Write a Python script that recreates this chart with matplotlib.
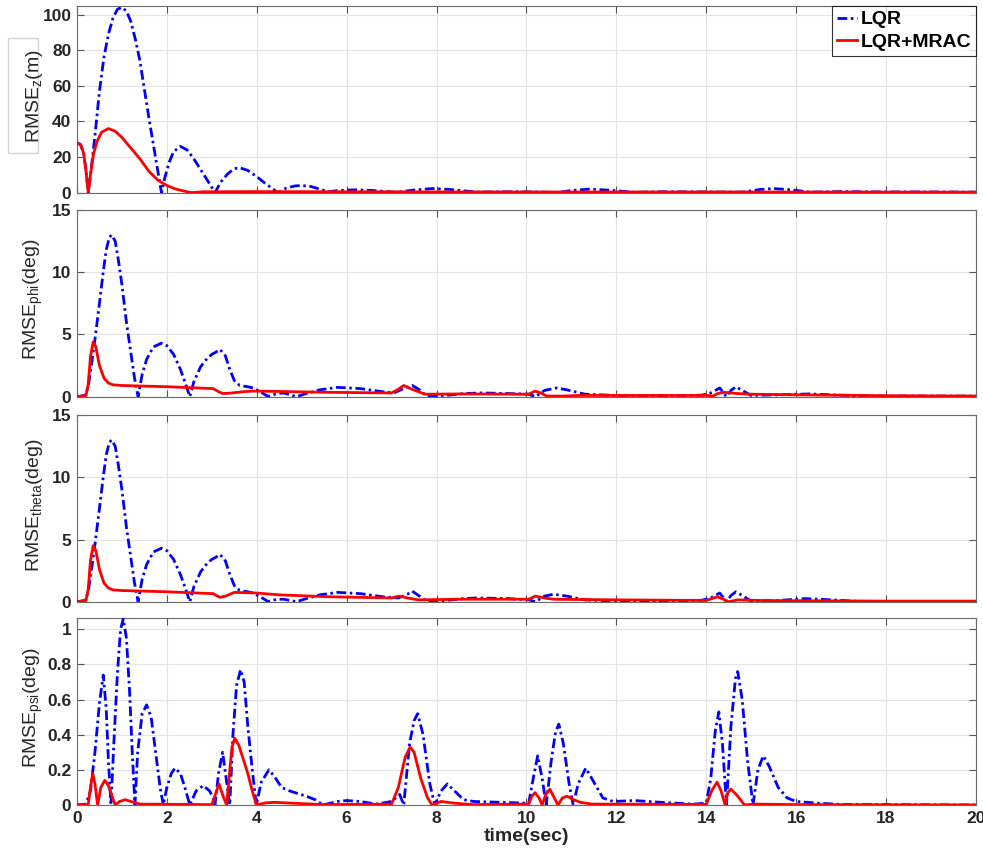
import numpy as np
import matplotlib.pyplot as plt
from matplotlib.ticker import FormatStrFormatter
from matplotlib.patches import Rectangle

plt.rcParams['font.family'] = ['Liberation Sans', 'DejaVu Sans']
plt.rcParams['mathtext.default'] = 'regular'

# datas (time in sec, value)
z_lqr = [(0, 28), (0.08, 27), (0.15, 22), (0.2, 13), (0.25, 0), (0.32, 14), (0.4, 32), (0.5, 57),
         (0.6, 76), (0.7, 89), (0.8, 98), (0.9, 103), (1.0, 104), (1.1, 102), (1.2, 96), (1.3, 86),
         (1.4, 74), (1.5, 58), (1.6, 42), (1.7, 27), (1.8, 12), (1.88, 0), (1.95, 8), (2.05, 17),
         (2.15, 23), (2.3, 26), (2.45, 24), (2.6, 19), (2.75, 13), (2.9, 7), (3.07, 0), (3.2, 6),
         (3.35, 10.5), (3.5, 13.5), (3.62, 14), (3.8, 12.5), (4.0, 9), (4.2, 5), (4.47, 0), (4.65, 2.5),
         (4.85, 3.8), (5.0, 4), (5.2, 3.5), (5.4, 2), (5.6, 0.5), (5.8, 1.2), (6.2, 1.6), (6.6, 1.2),
         (7.1, 0.2), (7.5, 1.5), (7.9, 2.3), (8.3, 1.8), (8.9, 0.3), (9.5, 0.5), (10.2, 0.4), (10.7, 0.1),
         (11.0, 1.2), (11.4, 2), (11.9, 1.3), (12.4, 0.2), (13, 0.5), (14, 0.4), (14.8, 0.3), (15.2, 1.8),
         (15.5, 2.3), (15.9, 1.6), (16.3, 0.3), (17, 0.6), (18, 0.4), (19, 0.4), (20, 0.3)]
z_mrac = [(0, 28), (0.08, 27), (0.15, 22), (0.2, 12), (0.25, 0), (0.3, 10), (0.37, 22), (0.45, 29),
          (0.55, 34), (0.7, 36), (0.85, 34.5), (1.0, 31), (1.2, 25), (1.4, 19), (1.6, 12), (1.8, 7),
          (2.0, 4), (2.2, 2), (2.4, 0.8), (2.55, 0), (2.8, 0.5), (4, 0.6), (6, 0.5), (10, 0.4),
          (14, 0.4), (20, 0.3)]

phi_lqr = [(0, 0), (0.18, 0.1), (0.25, 0.8), (0.32, 2.5), (0.4, 4.6), (0.5, 7.5), (0.58, 9.9),
           (0.65, 11.8), (0.72, 12.8), (0.77, 13), (0.85, 12.5), (0.92, 11), (1.0, 9), (1.1, 6),
           (1.2, 3.5), (1.28, 1.5), (1.36, 0), (1.45, 1.8), (1.55, 3.0), (1.7, 4.0), (1.88, 4.3),
           (2.0, 4.1), (2.15, 3.4), (2.3, 2.2), (2.42, 1.0), (2.51, 0), (2.6, 1.2), (2.75, 2.4),
           (2.9, 3.1), (3.0, 3.4), (3.1, 3.6), (3.18, 3.8), (3.3, 3.3), (3.4, 2.2), (3.5, 1.3),
           (3.62, 0.9), (3.8, 0.8), (3.92, 0.7), (4.1, 0.35), (4.25, 0.02), (4.45, 0.25), (4.6, 0.3),
           (4.75, 0.15), (4.88, 0), (5.1, 0.25), (5.4, 0.55), (5.8, 0.75), (6.3, 0.65), (6.8, 0.4),
           (7.05, 0.3), (7.3, 0.7), (7.46, 0.9), (7.6, 0.6), (7.8, 0), (8.2, 0.1), (8.6, 0.25),
           (9.0, 0.3), (9.6, 0.25), (10.05, 0.2), (10.2, 0), (10.4, 0.5), (10.66, 0.7), (10.9, 0.55),
           (11.3, 0.2), (12, 0.1), (13, 0.08), (13.9, 0.12), (14.1, 0.3), (14.3, 0.7), (14.45, 0),
           (14.55, 0.5), (14.66, 0.8), (14.8, 0.5), (15.0, 0.1), (15.6, 0.15), (16.3, 0.22),
           (17, 0.12), (17.7, 0.05), (20, 0.05)]
phi_mrac = [(0, 0), (0.2, 0.1), (0.25, 1), (0.3, 3.2), (0.36, 4.4), (0.42, 4.0), (0.5, 2.5),
            (0.6, 1.5), (0.7, 1.1), (0.8, 0.95), (1.0, 0.9), (2.0, 0.8), (3.03, 0.65), (3.15, 0.4),
            (3.25, 0.25), (3.4, 0.28), (3.7, 0.4), (3.9, 0.45), (4.5, 0.42), (5.6, 0.35), (7.0, 0.3),
            (7.15, 0.6), (7.27, 0.9), (7.45, 0.6), (7.74, 0.2), (8.5, 0.22), (10.05, 0.2),
            (10.19, 0.45), (10.32, 0.3), (10.45, 0.05), (10.8, 0.05), (11.2, 0.1), (14.05, 0.1),
            (14.15, 0.05), (14.25, 0.25), (14.4, 0.35), (14.7, 0.25), (15, 0.2), (16, 0.15),
            (18, 0.08), (20, 0.05)]

theta_lqr = [(0, 0), (0.18, 0.1), (0.25, 0.8), (0.32, 2.5), (0.4, 4.6), (0.5, 7.5), (0.58, 9.9),
             (0.65, 11.8), (0.72, 12.8), (0.77, 13), (0.85, 12.5), (0.92, 11), (1.0, 9), (1.1, 6),
             (1.2, 3.5), (1.28, 1.5), (1.36, 0), (1.45, 1.8), (1.55, 3.0), (1.7, 4.0), (1.88, 4.3),
             (2.0, 4.1), (2.15, 3.4), (2.3, 2.2), (2.42, 1.0), (2.51, 0), (2.6, 1.2), (2.75, 2.4),
             (2.9, 3.1), (3.0, 3.4), (3.1, 3.6), (3.18, 3.8), (3.3, 3.3), (3.4, 2.2), (3.5, 1.3),
             (3.62, 0.9), (3.8, 0.8), (3.92, 0.7), (4.1, 0.35), (4.25, 0.02), (4.45, 0.2), (4.6, 0.2),
             (4.75, 0.1), (4.88, 0), (5.1, 0.25), (5.4, 0.55), (5.8, 0.75), (6.3, 0.65), (6.8, 0.4),
             (7.15, 0.3), (7.35, 0.6), (7.46, 0.85), (7.6, 0.5), (7.8, 0), (8.2, 0.1), (8.6, 0.25),
             (8.9, 0.3), (9.6, 0.25), (10.05, 0.15), (10.2, 0), (10.4, 0.45), (10.6, 0.6), (10.9, 0.45),
             (11.3, 0.15), (12, 0.05), (13, 0.06), (13.9, 0.12), (14.1, 0.3), (14.3, 0.7), (14.45, 0),
             (14.55, 0.5), (14.66, 0.8), (14.8, 0.5), (15.0, 0.05), (15.6, 0.1), (16.2, 0.25),
             (16.8, 0.15), (17.5, 0), (20, 0.03)]
theta_mrac = [(0, 0), (0.2, 0.1), (0.25, 1), (0.3, 3.3), (0.36, 4.5), (0.42, 4.1), (0.5, 2.6),
              (0.6, 1.5), (0.7, 1.1), (0.8, 0.95), (1.0, 0.9), (2.0, 0.8), (3.03, 0.65), (3.1, 0.5),
              (3.18, 0.35), (3.3, 0.45), (3.5, 0.75), (4.0, 0.7), (4.5, 0.55), (5.6, 0.4), (7.0, 0.3),
              (7.1, 0.4), (7.18, 0.45), (7.35, 0.3), (7.6, 0.15), (8.5, 0.2), (10.05, 0.2),
              (10.2, 0.45), (10.4, 0.3), (10.6, 0.2), (12, 0.15), (14.0, 0.1), (14.12, 0.25),
              (14.25, 0.4), (14.38, 0.2), (14.5, 0.0), (14.7, 0.15), (15.2, 0.1), (16, 0.08),
              (18, 0.05), (20, 0.05)]

psi_lqr = [(0, 0), (0.2, 0.005), (0.3, 0.08), (0.4, 0.3), (0.5, 0.58), (0.585, 0.74), (0.65, 0.55),
           (0.7, 0.25), (0.756, 0), (0.82, 0.35), (0.9, 0.75), (0.97, 1.0), (1.03, 1.06), (1.1, 0.95),
           (1.17, 0.65), (1.23, 0.3), (1.29, 0), (1.35, 0.3), (1.45, 0.52), (1.55, 0.57), (1.65, 0.5),
           (1.75, 0.3), (1.85, 0.1), (1.92, 0), (2.0, 0.1), (2.1, 0.18), (2.18, 0.21), (2.3, 0.18),
           (2.4, 0.1), (2.51, 0), (2.65, 0.08), (2.81, 0.11), (2.95, 0.08), (3.03, 0.04), (3.07, 0),
           (3.15, 0.18), (3.24, 0.3), (3.32, 0.15), (3.4, 0), (3.47, 0.4), (3.55, 0.68), (3.64, 0.77),
           (3.72, 0.7), (3.8, 0.45), (3.9, 0.2), (3.99, 0), (4.1, 0.13), (4.27, 0.2), (4.4, 0.16),
           (4.55, 0.1), (4.73, 0.08), (5.1, 0.05), (5.3, 0.03), (5.47, 0), (5.8, 0.02), (6.0, 0.025),
           (6.3, 0.02), (6.66, 0.005), (7.0, 0.02), (7.18, 0.06), (7.27, 0), (7.4, 0.35), (7.5, 0.48),
           (7.58, 0.52), (7.7, 0.4), (7.85, 0.12), (7.96, 0), (8.1, 0.08), (8.24, 0.12), (8.4, 0.08),
           (8.6, 0.03), (8.82, 0.02), (10.05, 0.01), (10.15, 0.15), (10.25, 0.28), (10.35, 0.15),
           (10.44, 0), (10.55, 0.25), (10.65, 0.42), (10.72, 0.46), (10.82, 0.35), (10.95, 0.12),
           (11.04, 0), (11.15, 0.12), (11.32, 0.21), (11.5, 0.13), (11.7, 0.04), (11.93, 0.02),
           (12.4, 0.025), (13, 0.015), (13.7, 0.005), (14.0, 0.01), (14.1, 0.15), (14.2, 0.42),
           (14.28, 0.53), (14.36, 0.35), (14.45, 0), (14.55, 0.45), (14.65, 0.72), (14.7, 0.76),
           (14.8, 0.6), (14.92, 0.25), (15.04, 0), (15.15, 0.2), (15.27, 0.28), (15.4, 0.22),
           (15.6, 0.1), (15.8, 0.04), (16.0, 0.02), (16.5, 0.01), (17, 0.003), (20, 0)]
psi_mrac = [(0, 0), (0.25, 0.003), (0.3, 0.1), (0.35, 0.18), (0.4, 0.12), (0.46, 0), (0.53, 0.1),
            (0.62, 0.14), (0.7, 0.11), (0.78, 0.05), (0.85, 0), (0.95, 0.02), (1.07, 0.03), (1.2, 0.02),
            (1.4, 0.005), (3.0, 0.002), (3.08, 0.06), (3.16, 0.12), (3.25, 0.05), (3.33, 0), (3.4, 0.2),
            (3.45, 0.33), (3.51, 0.38), (3.6, 0.34), (3.7, 0.26), (3.8, 0.18), (3.9, 0.08), (3.99, 0),
            (4.2, 0.012), (4.4, 0.015), (4.8, 0.01), (5.5, 0.002), (7.0, 0.005), (7.15, 0.1),
            (7.3, 0.27), (7.41, 0.33), (7.5, 0.3), (7.65, 0.15), (7.8, 0.04), (7.9, 0), (8.1, 0.02),
            (8.4, 0.01), (8.8, 0.002), (10.05, 0.005), (10.12, 0.05), (10.19, 0.07), (10.28, 0.04),
            (10.35, 0), (10.43, 0.06), (10.52, 0.09), (10.6, 0.05), (10.7, 0), (10.8, 0.04),
            (10.9, 0.05), (11.05, 0.03), (11.2, 0.015), (11.46, 0.005), (14.0, 0.003), (14.12, 0.08),
            (14.24, 0.13), (14.33, 0.08), (14.42, 0), (14.48, 0.07), (14.55, 0.09), (14.7, 0.05),
            (14.85, 0), (15.1, 0.005), (16, 0.002), (20, 0)]

ylabels = [r'RMSE$_{z}$(m)', r'RMSE$_{phi}$(deg)', r'RMSE$_{theta}$(deg)', r'RMSE$_{psi}$(deg)']
yticks = [[0, 20, 40, 60, 80, 100], [0, 5, 10, 15], [0, 5, 10, 15], [0, 0.2, 0.4, 0.6, 0.8, 1]]
ylims = [104.8, 15, 15, 1.063]
series = [(z_lqr, z_mrac), (phi_lqr, phi_mrac), (theta_lqr, theta_mrac), (psi_lqr, psi_mrac)]

fig = plt.figure(figsize=(9.83, 8.59), dpi=100)

# light box behind the first y label
fig.patches.append(Rectangle((8 / 983, 1 - 153 / 859), 30 / 983, 115 / 859,
                             transform=fig.transFigure, facecolor='white',
                             edgecolor='#d4d4d4', lw=1, zorder=-5))

bottoms = [0.7757, 0.5382, 0.2995, 0.0629]
axes = []
for i in range(4):
    ax = fig.add_axes([0.0783, bottoms[i], 0.9145, 0.2173])
    lqr = np.array(series[i][0])
    mrac = np.array(series[i][1])
    ax.plot(lqr[:, 0], lqr[:, 1], color='blue', linestyle=(0, (3.5, 1.3, 0.9, 1.3)), lw=2,
            label='LQR', zorder=3)
    ax.plot(mrac[:, 0], mrac[:, 1], color='red', linestyle='-', lw=2, label='LQR+MRAC', zorder=4)
    ax.set_xlim(0, 20)
    ax.set_ylim(0, ylims[i])
    ax.set_xticks(np.arange(0, 21, 2))
    ax.set_yticks(yticks[i])
    ax.yaxis.set_major_formatter(FormatStrFormatter('%g'))
    ax.grid(True, color='#e3e3e3', lw=0.8)
    ax.set_axisbelow(True)
    ax.tick_params(direction='in', top=True, right=True, length=5, width=0.8,
                   color='#555555', labelsize=12.5, pad=4)
    for lab in ax.get_yticklabels() + ax.get_xticklabels():
        lab.set_fontweight('bold')
        lab.set_color('#262626')
    for s in ax.spines.values():
        s.set_color('#6a6a6a')
        s.set_linewidth(0.8)
    if i < 3:
        ax.set_xticklabels([])
    ax.set_ylabel(ylabels[i], fontsize=14, color='#262626')
    ax.yaxis.set_label_coords(-0.036, 0.52)
    axes.append(ax)

axes[3].set_xlabel('time(sec)', fontsize=14, fontweight='bold', color='#262626', labelpad=2)

leg = axes[0].legend(loc='upper right', prop={'weight': 'bold', 'size': 14},
                     handlelength=1.0, handletextpad=0.2, borderpad=0.25, labelspacing=0.25,
                     borderaxespad=0.0, fancybox=False, edgecolor='black')
leg.get_frame().set_linewidth(0.8)

plt.savefig('out.png', dpi=100)
